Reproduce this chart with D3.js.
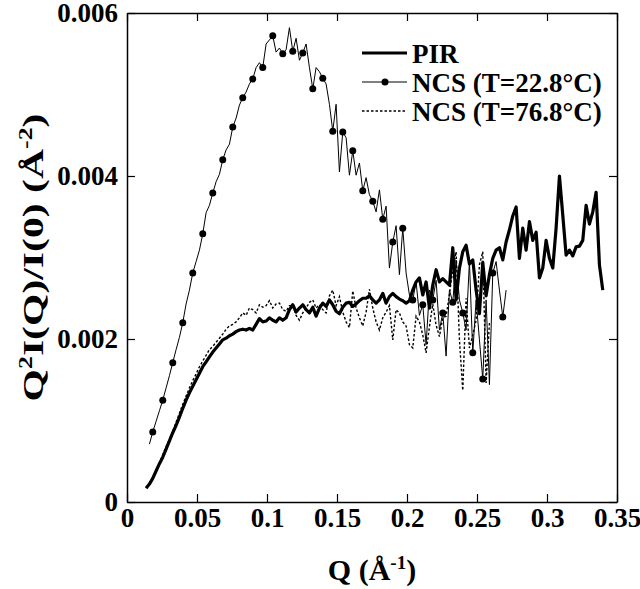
<!DOCTYPE html>
<html>
<head>
<meta charset="utf-8">
<script src="https://cdn.jsdelivr.net/npm/d3@7"></script>
<style>
  html, body { margin: 0; padding: 0; background: #fff; }
  svg text { font-family: "Liberation Serif", "Times New Roman", serif; font-weight: bold; fill: #000; }
</style>
</head>
<body>
<div id="container"></div>
<script>
"use strict"

// Q sampling grid shared by the three curves (Å^-1)
const qStart = 0.01364;
const qStep = 0.002381;

// Q²I(Q)/I(0), in units of 1e-3 Å^-2
const pirValues = [
    0.17, 0.22, 0.29, 0.38, 0.47, 0.55, 0.65, 0.75, 0.85, 0.94,
    1.04, 1.15, 1.25, 1.34, 1.42, 1.50, 1.58, 1.66, 1.72, 1.78,
    1.84, 1.89, 1.94, 1.99, 2.01, 2.04, 2.06, 2.09, 2.11, 2.12,
    2.11, 2.13, 2.11, 2.18, 2.25, 2.21, 2.22, 2.26, 2.23, 2.21,
    2.26, 2.23, 2.26, 2.36, 2.42, 2.33, 2.38, 2.42, 2.36, 2.32,
    2.39, 2.28, 2.38, 2.44, 2.40, 2.48, 2.42, 2.34, 2.31, 2.39,
    2.44, 2.45, 2.40, 2.43, 2.47, 2.50, 2.50, 2.53, 2.48, 2.44,
    2.48, 2.56, 2.44, 2.52, 2.56, 2.52, 2.49, 2.47, 2.44, 2.47,
    2.60, 2.70, 2.75, 2.54, 2.70, 2.38, 2.66, 2.85, 2.70, 2.74,
    2.70, 2.66, 3.12, 2.48, 2.87, 3.07, 3.15, 2.92, 2.97, 2.60,
    2.31, 2.94, 2.53, 2.79, 2.99, 3.09, 3.12, 2.97, 3.19, 3.34,
    3.51, 3.62, 2.99, 3.36, 3.09, 3.44, 3.21, 3.31, 2.75, 2.87,
    3.21, 2.99, 2.87, 3.36, 4.00, 3.52, 3.03, 3.09, 3.02, 3.13,
    3.14, 3.21, 3.64, 3.41, 3.56, 3.80, 2.91, 2.60
];

// NCS at 22.8 °C, starts one grid step later, a marker on every third point
const ncs228Offset = 1;
const ncs228Values = [
    0.71, 0.86, 0.99, 1.12, 1.25, 1.40, 1.55, 1.71, 1.87, 2.02,
    2.20, 2.43, 2.60, 2.81, 2.95, 3.09, 3.29, 3.55, 3.64, 3.79,
    3.93, 4.02, 4.20, 4.32, 4.39, 4.60, 4.71, 4.87, 4.96, 5.03,
    5.13, 5.19, 5.33, 5.39, 5.33, 5.62, 5.67, 5.72, 5.52, 5.57,
    5.50, 5.55, 5.82, 5.53, 5.69, 5.42, 5.51, 5.62, 5.33, 5.07,
    5.33, 5.28, 5.20, 5.13, 4.88, 4.55, 4.88, 4.05, 4.54, 4.47,
    4.01, 4.31, 4.01, 4.16, 3.82, 3.98, 3.77, 3.69, 3.56, 3.83,
    3.47, 3.63, 2.87, 3.19, 3.39, 2.79, 3.36, 2.81, 2.54, 2.48,
    2.70, 2.29, 2.42, 1.93, 2.60, 2.48, 2.72, 2.11, 2.32, 1.79,
    2.60, 2.45, 2.97, 2.48, 2.32, 2.11, 2.95, 1.83, 2.48, 1.99,
    1.51, 2.48, 1.44, 2.81, 2.95, 2.60, 2.27, 2.60
];

// NCS at 76.8 °C
const ncs768Values = [
    0.18, 0.23, 0.31, 0.39, 0.48, 0.58, 0.68, 0.77, 0.87, 0.98,
    1.09, 1.20, 1.30, 1.40, 1.49, 1.57, 1.66, 1.73, 1.80, 1.87,
    1.91, 1.96, 2.01, 2.06, 2.12, 2.16, 2.18, 2.21, 2.26, 2.32,
    2.29, 2.38, 2.36, 2.32, 2.42, 2.39, 2.41, 2.47, 2.38, 2.43,
    2.44, 2.36, 2.34, 2.41, 2.41, 2.29, 2.23, 2.32, 2.38, 2.45,
    2.48, 2.38, 2.42, 2.36, 2.32, 2.53, 2.60, 2.41, 2.52, 2.33,
    2.21, 2.14, 2.59, 2.38, 2.26, 2.16, 2.33, 2.61, 2.38, 2.21,
    2.11, 2.26, 2.33, 2.41, 1.99, 2.36, 2.32, 2.21, 2.16, 1.93,
    1.89, 2.28, 2.21, 2.05, 1.83, 2.15, 2.43, 2.17, 2.03, 2.26,
    2.28, 2.55, 2.85, 3.07, 1.99, 1.37, 2.50, 1.89, 2.05, 2.23,
    2.91, 3.07, 1.46, 2.20
];

const xTicks = [0, 0.05, 0.1, 0.15, 0.2, 0.25, 0.3, 0.35];
const yTicks = [0, 0.002, 0.004, 0.006];
const yTickLabels = ["0", "0.002", "0.004", "0.006"];
const legendLabels = ["PIR", "NCS (T=22.8\u00B0C)", "NCS (T=76.8\u00B0C)"];

const width = 640;
const height = 589;
const plotLeft = 127;
const plotRight = 617;
const plotTop = 13;
const plotBottom = 502;
const tickLength = 8;

let svg;
let xScale;
let yScale;


function Main()
{
    CreateSVG();
    CreateScales();
    DrawAxes();
    DrawCurves();
    DrawLegend();
    DrawTitles();
};


function CreateSVG()
{
    svg = d3.select("#container")
        .append("svg")
        .attr("width", width)
        .attr("height", height);
};


function CreateScales()
{
    xScale = d3.scaleLinear().domain([0, 0.35]).range([plotLeft, plotRight]);
    yScale = d3.scaleLinear().domain([0, 0.006]).range([plotBottom, plotTop]);
};


function ToPoints(values, offset)
{
    return values.map((v, i) => ({q: qStart + (i + offset) * qStep, v: v * 1e-3, i: i}));
};


function StyleAxis(g)
{
    g.selectAll("path").attr("stroke", "#000").attr("stroke-width", 1.5);
    g.selectAll("line").attr("stroke", "#000").attr("stroke-width", 1.2);
    g.selectAll("text").attr("font-size", 27).attr("fill", "#000");
};


function DrawAxes()
{
    svg.append("g")
        .attr("transform", `translate(0,${plotBottom})`)
        .call(d3.axisBottom(xScale).tickValues(xTicks).tickFormat(d3.format("")).tickSize(-tickLength).tickSizeOuter(0).tickPadding(6))
        .call(StyleAxis)
        .attr("font-family", null);

    svg.append("g")
        .attr("transform", `translate(0,${plotTop})`)
        .call(d3.axisTop(xScale).tickValues(xTicks).tickFormat("").tickSize(-tickLength).tickSizeOuter(0))
        .call(StyleAxis);

    svg.append("g")
        .attr("transform", `translate(${plotLeft},0)`)
        .call(d3.axisLeft(yScale).tickValues(yTicks).tickFormat((d, i) => yTickLabels[i]).tickSize(-tickLength).tickSizeOuter(0).tickPadding(9))
        .call(StyleAxis)
        .attr("font-family", null);

    svg.append("g")
        .attr("transform", `translate(${plotRight},0)`)
        .call(d3.axisRight(yScale).tickValues(yTicks).tickFormat("").tickSize(-tickLength).tickSizeOuter(0))
        .call(StyleAxis);
};


function DrawCurves()
{
    const line = d3.line()
        .x(d => xScale(d.q))
        .y(d => yScale(d.v));

    const ncs768 = ToPoints(ncs768Values, 0);
    const ncs228 = ToPoints(ncs228Values, ncs228Offset);
    const pir = ToPoints(pirValues, 0);

    svg.append("path")
        .datum(ncs768)
        .attr("fill", "none")
        .attr("stroke", "#000")
        .attr("stroke-width", 1.4)
        .attr("stroke-dasharray", "2.5,2")
        .attr("d", line);

    svg.append("path")
        .datum(ncs228)
        .attr("fill", "none")
        .attr("stroke", "#000")
        .attr("stroke-width", 1)
        .attr("d", line);

    svg.append("g")
        .selectAll("circle")
        .data(ncs228.filter(d => d.i % 3 === 1))
        .enter()
        .append("circle")
        .attr("cx", d => xScale(d.q))
        .attr("cy", d => yScale(d.v))
        .attr("r", 3.5)
        .attr("fill", "#000");

    svg.append("path")
        .datum(pir)
        .attr("fill", "none")
        .attr("stroke", "#000")
        .attr("stroke-width", 3.2)
        .attr("stroke-linejoin", "round")
        .attr("d", line);
};


function DrawLegend()
{
    const legend = svg.append("g").attr("transform", "translate(362,53)");
    const rowGap = 29;

    const rows = legend.selectAll("g")
        .data(legendLabels)
        .enter()
        .append("g")
        .attr("transform", (_, i) => `translate(0,${i * rowGap})`);

    rows.append("line")
        .attr("x1", 0)
        .attr("x2", 45)
        .attr("stroke", "#000")
        .attr("stroke-width", (_, i) => [3.2, 1, 1.4][i])
        .attr("stroke-dasharray", (_, i) => i === 2 ? "2.5,2" : null);

    rows.filter((_, i) => i === 1)
        .append("circle")
        .attr("cx", 23)
        .attr("r", 3.5)
        .attr("fill", "#000");

    rows.append("text")
        .attr("x", 50)
        .attr("y", 10)
        .attr("font-size", 27)
        .text(d => d);
};


function DrawTitles()
{
    const xTitle = svg.append("text")
        .attr("x", (plotLeft + plotRight) / 2)
        .attr("y", 580)
        .attr("text-anchor", "middle")
        .attr("font-size", 30);
    xTitle.append("tspan").text("Q (\u00C5");
    xTitle.append("tspan").attr("dy", -11).attr("font-size", 19).text("-1");
    xTitle.append("tspan").attr("dy", 11).text(")");

    const yTitle = svg.append("text")
        .attr("text-anchor", "middle")
        .attr("font-size", 29);
    yTitle.append("tspan").text("Q");
    yTitle.append("tspan").attr("dy", -11).attr("font-size", 18).text("2");
    yTitle.append("tspan").attr("dy", 11).text("I(Q)/I(0) (\u00C5");
    yTitle.append("tspan").attr("dy", -11).attr("font-size", 18).text("-2");
    yTitle.append("tspan").attr("dy", 11).text(")");

    // the original title is drawn taller than its glyph width suggests
    const stretch = 288 / yTitle.node().getBBox().width;
    yTitle.attr("transform", `translate(43,${(plotTop + plotBottom) / 2}) rotate(-90) scale(${stretch},1)`);
};


Main();
</script>
</body>
</html>
